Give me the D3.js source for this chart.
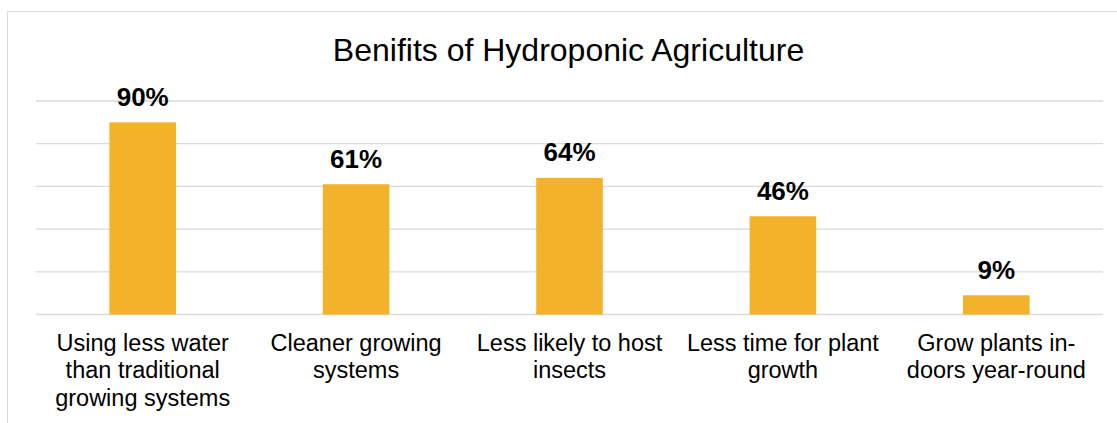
<!DOCTYPE html>
<html>
<head>
<meta charset="utf-8">
<script src="https://d3js.org/d3.v7.min.js"></script>
<style>
  html, body { margin: 0; padding: 0; background: white; }
  body { font-family: 'Liberation Sans', Arial, sans-serif; }
  svg { display: block; }
</style>
</head>
<body>
<div id="chart"></div>
<script>
// chart data
var categories = [
  ["Using less water", "than traditional", "growing systems"],
  ["Cleaner growing", "systems"],
  ["Less likely to host", "insects"],
  ["Less time for plant", "growth"],
  ["Grow plants in-", "doors year-round"]
];
var values = [0.90, 0.61, 0.64, 0.46, 0.09];
var yTicks = [0, 0.2, 0.4, 0.6, 0.8, 1.0];
var title = "Benifits of Hydroponic Agriculture";

var W = 1117, H = 423;
var plot = { left: 36, right: 1103, top: 101, bottom: 314.5 };

var svg = d3.select("#chart").append("svg")
  .attr("width", W)
  .attr("height", H);

// chart area border (runs off the right and bottom edges)
svg.append("rect")
  .attr("x", 7.5).attr("y", 11.5)
  .attr("width", 1130).attr("height", 430)
  .attr("fill", "white")
  .attr("stroke", "#d9d9d9")
  .attr("stroke-width", 1);

var x = d3.scaleBand()
  .domain(d3.range(categories.length))
  .range([plot.left, plot.right])
  .paddingInner(0.688)
  .paddingOuter(0.344);

var y = d3.scaleLinear().domain([0, 1]).range([plot.bottom, plot.top]);

// gridlines
svg.selectAll(".grid")
  .data(yTicks)
  .enter().append("line")
  .attr("class", "grid")
  .attr("x1", plot.left).attr("x2", plot.right)
  .attr("y1", function (d) { return y(d); })
  .attr("y2", function (d) { return y(d); })
  .attr("stroke", "#d9d9d9")
  .attr("stroke-width", 1.3);

// bars
svg.selectAll(".bar")
  .data(values)
  .enter().append("rect")
  .attr("class", "bar")
  .attr("x", function (d, i) { return x(i); })
  .attr("y", function (d) { return y(d); })
  .attr("width", x.bandwidth())
  .attr("height", function (d) { return y(0) - y(d); })
  .attr("fill", "#f2b229");

// value labels
svg.selectAll(".val")
  .data(values)
  .enter().append("text")
  .attr("class", "val")
  .attr("x", function (d, i) { return x(i) + x.bandwidth() / 2; })
  .attr("y", function (d) { return y(d) - 16.5; })
  .attr("text-anchor", "middle")
  .style("font-size", "26px")
  .style("font-weight", "bold")
  .attr("fill", "#000")
  .text(function (d) { return Math.round(d * 100) + "%"; });

// category labels
var cat = svg.selectAll(".cat")
  .data(categories)
  .enter().append("text")
  .attr("class", "cat")
  .attr("text-anchor", "middle")
  .style("font-size", "23.5px")
  .attr("fill", "#000");

cat.selectAll("tspan")
  .data(function (d, i) { return d.map(function (s) { return { s: s, i: i }; }); })
  .enter().append("tspan")
  .attr("x", function (d) { return x(d.i) + x.bandwidth() / 2; })
  .attr("y", function (d, j) { return 350.5 + j * 27.5; })
  .text(function (d) { return d.s; });

// title
svg.append("text")
  .attr("x", (plot.left + plot.right) / 2 - 1)
  .attr("y", 61)
  .attr("text-anchor", "middle")
  .style("font-size", "32px")
  .attr("fill", "#000")
  .text(title);
</script>
</body>
</html>
